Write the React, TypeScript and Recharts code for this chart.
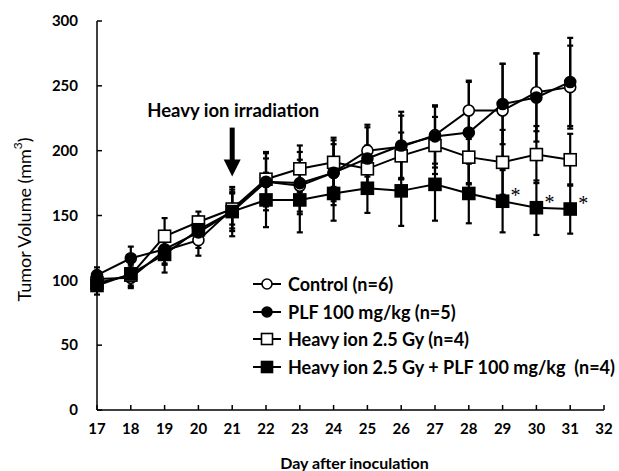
import React from "react";
import {
  LineChart,
  Line,
  XAxis,
  YAxis,
  ErrorBar,
  Legend,
  Label,
  LabelList,
  ReferenceDot,
} from "recharts";

const days = [17, 18, 19, 20, 21, 22, 23, 24, 25, 26, 27, 28, 29, 30, 31];
const xTicks = [17, 18, 19, 20, 21, 22, 23, 24, 25, 26, 27, 28, 29, 30, 31, 32];
const yTicks = [0, 50, 100, 150, 200, 250, 300];

// mean tumor volume per group
const control = [101, 102, 123, 131, 155, 176, 173, 183, 200, 203, 212, 231, 231, 245, 249];
const plf = [104, 117, 124, 137, 153, 176, 175, 183, 194, 204, 211, 214, 236, 241, 253];
const heavy = [98, 104, 134, 145, 155, 178, 186, 191, 186, 196, 204, 195, 191, 197, 193];
const combo = [96, 105, 120, 139, 153, 162, 162, 167, 171, 169, 174, 167, 161, 156, 155];

// error bars (SD)
const controlErr = [5, 8, 10, 12, 12, 18, 20, 22, 20, 24, 22, 22, 36, 30, 32];
const plfErr = [6, 9, 12, 12, 15, 22, 24, 25, 24, 26, 24, 40, 31, 34, 34];
const heavyErr = [6, 8, 14, 8, 15, 21, 18, 19, 18, 18, 22, 20, 25, 22, 20];
const comboErr = [7, 10, 14, 10, 19, 21, 25, 21, 19, 27, 28, 23, 24, 21, 19];

// significance marks on the combo group
const comboSig = ["", "", "", "", "", "", "", "", "", "", "", "", "*", "*", "*"];

const legendNames = [
  "Control (n=6)",
  "PLF 100 mg/kg (n=5)",
  "Heavy ion 2.5 Gy (n=4)",
  "Heavy ion 2.5 Gy + PLF 100 mg/kg  (n=4)",
];
const legendShapes = ["circle", "circle", "square", "square"];
const legendFills = ["#fff", "#000", "#fff", "#000"];

const data = days.map((d, i) => ({
  day: d,
  control: control[i],
  controlErr: controlErr[i],
  plf: plf[i],
  plfErr: plfErr[i],
  heavy: heavy[i],
  heavyErr: heavyErr[i],
  combo: combo[i],
  comboErr: comboErr[i],
  sig: comboSig[i],
}));

const FONT = "Lato, 'Open Sans', sans-serif";

const circleDot = (fill: string) => (p: any) => (
  <circle
    key={`c-${fill}-${p.index}`}
    cx={p.cx}
    cy={p.cy}
    r={5.5}
    fill={fill}
    stroke="#000"
    strokeWidth={1.6}
  />
);

const squareDot = (fill: string) => (p: any) => (
  <rect
    key={`s-${fill}-${p.index}`}
    x={p.cx - 6}
    y={p.cy - 6}
    width={12}
    height={12}
    fill={fill}
    stroke="#000"
    strokeWidth={1.6}
  />
);

const Marker = ({ shape, fill }: { shape: string; fill: string }) => (
  <svg width={30} height={14} style={{ display: "block" }}>
    <line x1={1} y1={7} x2={29} y2={7} stroke="#000" strokeWidth={2} />
    {shape === "circle" ? (
      <circle cx={15} cy={7} r={5} fill={fill} stroke="#000" strokeWidth={1.6} />
    ) : (
      <rect x={9.5} y={1.5} width={11} height={11} fill={fill} stroke="#000" strokeWidth={1.6} />
    )}
  </svg>
);

const renderLegend = () => (
  <div style={{ fontFamily: FONT, fontWeight: 700, fontSize: 18, color: "#000" }}>
    {legendNames.map((name, i) => (
      <div
        key={name}
        style={{ display: "flex", alignItems: "center", height: 27.7, whiteSpace: "pre" }}
      >
        <Marker shape={legendShapes[i]} fill={legendFills[i]} />
        <span style={{ marginLeft: 6 }}>{name}</span>
      </div>
    ))}
  </div>
);

const ArrowNote = (p: any) => {
  const { cx, cy } = p;
  return (
    <g>
      <text
        x={cx + 1}
        y={cy - 60}
        textAnchor="middle"
        fontFamily={FONT}
        fontWeight={700}
        fontSize={18.5}
        fill="#000"
      >
        Heavy ion irradiation
      </text>
      <rect x={cx - 2.5} y={cy - 49} width={5} height={33} fill="#000" />
      <polygon points={`${cx - 8.5},${cy - 17} ${cx + 8.5},${cy - 17} ${cx},${cy}`} fill="#000" />
    </g>
  );
};

const renderSig = (p: any) =>
  p.value ? (
    <text
      key={`sig-${p.index}`}
      x={p.x + 8}
      y={p.y + 1}
      fontFamily="'Liberation Serif', serif"
      fontSize={20}
      fill="#000"
    >
      {p.value}
    </text>
  ) : null;

const renderYLabel = (p: any) => {
  const vb = p.viewBox;
  const cx = vb.x + 24;
  const cy = vb.y + vb.height / 2 + 4;
  return (
    <text
      x={cx}
      y={cy}
      transform={`rotate(-90, ${cx}, ${cy})`}
      textAnchor="middle"
      dominantBaseline="central"
      fontFamily={FONT}
      fontSize={18}
      fill="#000"
    >
      Tumor Volume (mm
      <tspan dy={-7} fontSize={12}>3</tspan>
      <tspan dy={7}>)</tspan>
    </text>
  );
};

const renderXLabel = (p: any) => {
  const vb = p.viewBox;
  return (
    <text
      x={vb.x + vb.width / 2 + 4}
      y={469}
      textAnchor="middle"
      fontFamily={FONT}
      fontWeight={700}
      fontSize={16}
      fill="#000"
    >
      Day after inoculation
    </text>
  );
};

const tickStyle = { fontFamily: FONT, fontWeight: 700, fontSize: 15, fill: "#000" };

const App = () => {
  return (
    <div style={{ position: "absolute", left: 0, top: 0, background: "#fff" }}>
      <LineChart
        width={619}
        height={471}
        data={data}
        margin={{ top: 21, right: 15, left: 0, bottom: 0 }}
      >
        <XAxis
          dataKey="day"
          type="number"
          domain={[17, 32]}
          ticks={xTicks}
          interval={0}
          height={61}
          tick={tickStyle}
          tickSize={-5}
          tickMargin={18}
          stroke="#000"
          strokeWidth={1.5}
          tickLine={{ stroke: "#000", strokeWidth: 1.5 }}
        >
          <Label content={renderXLabel} />
        </XAxis>
        <YAxis
          type="number"
          domain={[0, 300]}
          ticks={yTicks}
          width={97}
          tick={tickStyle}
          tickSize={-5}
          tickMargin={24}
          stroke="#000"
          strokeWidth={1.5}
          tickLine={{ stroke: "#000", strokeWidth: 1.5 }}
        >
          <Label content={renderYLabel} />
        </YAxis>
        <Legend
          layout="vertical"
          align="center"
          verticalAlign="middle"
          content={renderLegend}
          wrapperStyle={{ left: 252, top: 270, width: 367 }}
        />
        <Line
          dataKey="control"
          stroke="#000"
          strokeWidth={2}
          isAnimationActive={false}
          dot={circleDot("#fff")}
          activeDot={false}
        >
          <ErrorBar dataKey="controlErr" direction="y" width={3} stroke="#000" strokeWidth={2.2} />
        </Line>
        <Line
          dataKey="heavy"
          stroke="#000"
          strokeWidth={2}
          isAnimationActive={false}
          dot={squareDot("#fff")}
          activeDot={false}
        >
          <ErrorBar dataKey="heavyErr" direction="y" width={3} stroke="#000" strokeWidth={2.2} />
        </Line>
        <Line
          dataKey="plf"
          stroke="#000"
          strokeWidth={2}
          isAnimationActive={false}
          dot={circleDot("#000")}
          activeDot={false}
        >
          <ErrorBar dataKey="plfErr" direction="y" width={3} stroke="#000" strokeWidth={2.2} />
        </Line>
        <Line
          dataKey="combo"
          stroke="#000"
          strokeWidth={2}
          isAnimationActive={false}
          dot={squareDot("#000")}
          activeDot={false}
        >
          <ErrorBar dataKey="comboErr" direction="y" width={3} stroke="#000" strokeWidth={2.2} />
          <LabelList dataKey="sig" content={renderSig} />
        </Line>
        <ReferenceDot x={21} y={180} r={0} shape={ArrowNote} ifOverflow="visible" />
      </LineChart>
    </div>
  );
};

export default App;
